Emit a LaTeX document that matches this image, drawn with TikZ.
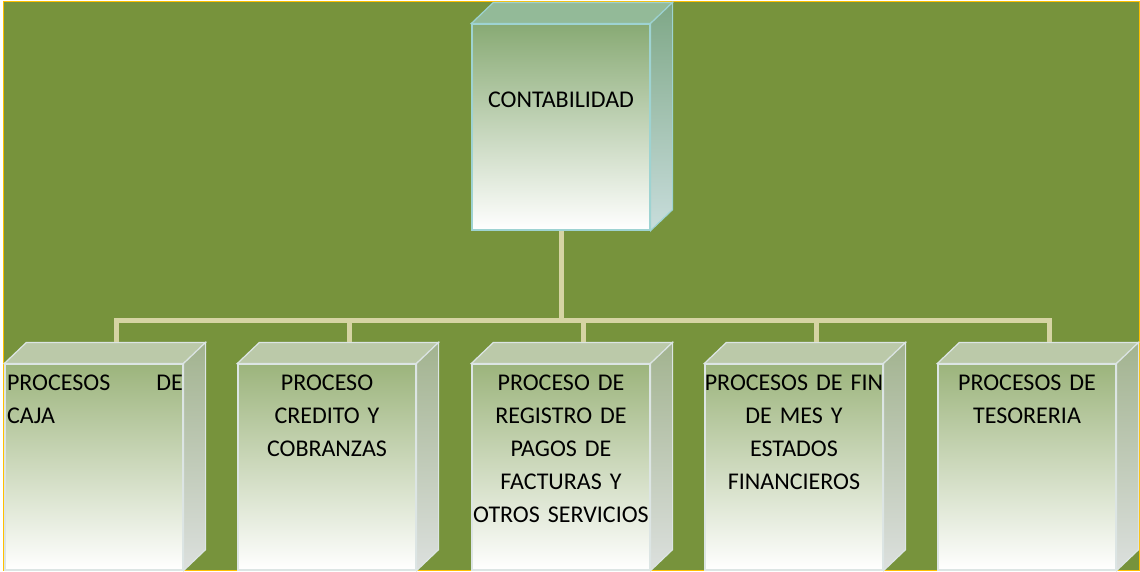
\documentclass[tikz,border=0pt]{standalone}
\usepackage{fontspec}
\setmainfont{Carlito}
\usetikzlibrary{positioning}

\definecolor{fondo}{HTML}{77933C}
\definecolor{marco}{HTML}{FFC000}
\definecolor{linea}{HTML}{D6D4A3}
\definecolor{bordeA}{HTML}{9ED3D2}
\definecolor{bordeB}{HTML}{DCE5E4}
\definecolor{frenteA}{HTML}{88AA74}
\definecolor{medioA}{HTML}{C4D6B8}
\definecolor{tapaA}{HTML}{93BA98}
\definecolor{ladoA}{HTML}{7EA786}
\definecolor{ladoAb}{HTML}{C8DDDC}
\definecolor{frenteB}{HTML}{9CB47C}
\definecolor{medioB}{HTML}{CFDBC0}
\definecolor{tapaB}{HTML}{BBC9A9}
\definecolor{ladoB}{HTML}{A2B38F}
\definecolor{ladoBb}{HTML}{DCE0DE}

\tikzset{
  cara/.style={minimum width=178pt, minimum height=206pt, inner sep=0pt, line width=1.2pt},
  caraA/.style={cara, draw=bordeA, top color=frenteA, middle color=medioA, bottom color=white},
  caraB/.style={cara, draw=bordeB, top color=frenteB, middle color=medioB, bottom color=white},
  texto/.style={inner sep=0pt, font=\fontsize{24}{33}\selectfont, align=center, text width=180pt},
  conector/.style={draw=linea, line width=5pt, line join=miter}
}

\begin{document}
\begin{tikzpicture}[x=1pt,y=-1pt]
\useasboundingbox (0,0) rectangle (1140,571);
\fill[white] (0,0) rectangle (1140,571);
\filldraw[fill=fondo, draw=marco, line width=1.5pt] (3.5,1.5) rectangle (1139.5,570.5);

% caja superior
\node[caraA] (conta) at (561,127) {};
\filldraw[draw=bordeA, fill=tapaA, line width=1.2pt] (conta.north west) -- ([shift={(22,-21)}]conta.north west)
  -- ([shift={(22,-21)}]conta.north east) -- (conta.north east) -- cycle;
\filldraw[draw=bordeA, top color=ladoA, bottom color=ladoAb, line width=1.2pt] (conta.north east) -- ([shift={(22,-21)}]conta.north east)
  -- ([shift={(22,-21)}]conta.south east) -- (conta.south east) -- cycle;
\node[texto, below=68pt of conta.north] (tconta) {CONTABILIDAD};

% cajas inferiores
\foreach \i/\x in {1/94,2/327,3/561,4/794,5/1027} {
  \node[caraB] (p\i) at (\x,467) {};
  \filldraw[draw=bordeB, fill=tapaB, line width=1.2pt] (p\i.north west) -- ([shift={(22,-21)}]p\i.north west)
    -- ([shift={(22,-21)}]p\i.north east) -- (p\i.north east) -- cycle;
  \filldraw[draw=bordeB, top color=ladoB, bottom color=ladoBb, line width=1.2pt] (p\i.north east) -- ([shift={(22,-21)}]p\i.north east)
    -- ([shift={(22,-21)}]p\i.south east) -- (p\i.south east) -- cycle;
  \coordinate (t\i) at ([shift={(22,-21)}]p\i.north);
}
\node[texto, align=left, text width=176pt, below=11pt of p1.north, xshift=1pt] (tx1) {PROCESOS\hfill DE\\CAJA};
\node[texto, below=11pt of p2.north] (tx2) {PROCESO\\CREDITO Y\\COBRANZAS};
\node[texto, below=11pt of p3.north] (tx3) {PROCESO DE\\REGISTRO DE\\PAGOS DE\\FACTURAS Y\\OTROS SERVICIOS};
\node[texto, below=11pt of p4.north] (tx4) {PROCESOS DE FIN\\DE MES Y\\ESTADOS\\FINANCIEROS};
\node[texto, below=11pt of p5.north] (tx5) {PROCESOS DE\\TESORERIA};

% conectores
\coordinate (bus) at (0,320);
\draw[conector] (conta.south) -- (conta.south |- bus);
\draw[conector] (t1) -- (t1 |- bus) -- (t5 |- bus) -- (t5);
\foreach \i in {2,3,4} \draw[conector] (t\i) -- (t\i |- bus);
\end{tikzpicture}
\end{document}
